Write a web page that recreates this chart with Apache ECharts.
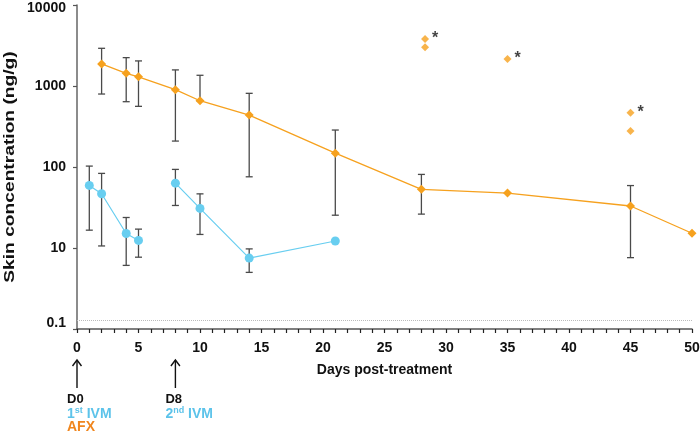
<!DOCTYPE html>
<html>
<head>
<meta charset="utf-8">
<script src="https://cdn.jsdelivr.net/npm/echarts@6/dist/echarts.min.js"></script>
<style>html,body{margin:0;padding:0;background:#fff}#c{width:700px;height:431px}</style>
</head>
<body>
<div id="c"></div>
<script>
// ---- data ----
const afxDays  = [2, 4, 5, 8, 10, 14, 21, 28, 35, 45, 50];
const afxMean  = [1870, 1435, 1300, 900, 658, 438, 148, 53, 47.6, 33, 15.2];
const afxLow   = [796, 640, 561, 209, 658, 75.7, 25.4, 26.2, null, 7.6, null];
const afxHigh  = [2920, 2240, 2040, 1580, 1356, 812, 286, 81, null, 59, null];

const ivm1Days = [1, 2, 4, 5];
const ivm1Mean = [59.3, 46.7, 15.1, 12.4];
const ivm1Low  = [16.6, 10.6, 6.1, 7.7];
const ivm1High = [102.6, 83.4, 23.8, 17.1];

const ivm2Days = [8, 10, 14, 21];
const ivm2Mean = [63.2, 30.8, 7.5, 12.2];
const ivm2Low  = [33.5, 14.7, 5.0, null];
const ivm2High = [93.4, 46.6, 9.75, null];

const outDays  = [28.3, 28.3, 35, 45, 45];
const outVals  = [3810, 3010, 2160, 468, 278];
const outStar  = ['*', '', '*', '*', ''];

const loqValue = 1.3;
const yTickLabels = {1: '0.1', 10: '10', 100: '100', 1000: '1000', 10000: '10000'};
const yTitle = 'Skin concentration (ng/g)';
const xTitle = 'Days post-treatment';

const annotations = [
  {day: 0, lines: ['D0', '1st IVM', 'AFX']},
  {day: 8, lines: ['D8', '2nd IVM']}
];

// ---- styles ----
const ORANGE = '#F6A11E';
const BLUE = '#68CEF0';
const ERR = '#4a4a4a';
const FONT = 'Liberation Sans, Arial, sans-serif';

function zip(a, b) { return a.map((v, i) => [v, b[i]]); }
function errData(d, lo, hi) {
  const out = [];
  d.forEach((x, i) => { if (lo[i] != null && hi[i] != null) out.push([x, lo[i], hi[i]]); });
  return out;
}
function errRender(params, api) {
  const x = api.value(0);
  const lo = api.coord([x, api.value(1)]);
  const hi = api.coord([x, api.value(2)]);
  const w = 3.5;
  const st = {stroke: ERR, lineWidth: 1.3};
  const children = [{type: 'line', shape: {x1: lo[0], y1: lo[1], x2: hi[0], y2: hi[1]}, style: st}];
  children.push({type: 'line', shape: {x1: hi[0] - w, y1: hi[1], x2: hi[0] + w, y2: hi[1]}, style: st});
  if (api.value(1) !== api.value(2)) {
    children.push({type: 'line', shape: {x1: lo[0] - w, y1: lo[1], x2: lo[0] + w, y2: lo[1]}, style: st});
  }
  return {type: 'group', children};
}

const LBL = {fontFamily: FONT, fontWeight: 'bold', fontSize: 14, color: '#111'};
const chart = echarts.init(document.getElementById('c'), null, {renderer: 'canvas'});
chart.setOption({
  animation: false,
  grid: {left: 77, right: 8, top: 5, bottom: 102, outerBoundsMode: 'none', containLabel: false},
  xAxis: {
    type: 'value', min: 0, max: 50, interval: 5,
    name: xTitle, nameLocation: 'middle', nameGap: 34,
    nameTextStyle: {fontFamily: FONT, fontWeight: 'bold', fontSize: 14, color: '#111'},
    axisLine: {lineStyle: {color: '#555', width: 1.5}},
    axisTick: {show: true, length: 4, lineStyle: {color: '#222', width: 1.2}},
    minorTick: {show: true, splitNumber: 5, length: 4, lineStyle: {color: '#222', width: 1.2}},
    axisLabel: {fontFamily: FONT, fontWeight: 'bold', fontSize: 14, color: '#111', margin: 12},
    splitLine: {show: false}
  },
  yAxis: {
    type: 'log', logBase: 10, min: 1, max: 10000,
    axisLine: {show: true, lineStyle: {color: '#666', width: 1.5}},
    axisTick: {show: true, length: 4, lineStyle: {color: '#555', width: 1.2}},
    axisLabel: {fontFamily: FONT, fontWeight: 'bold', fontSize: 14, color: '#111', margin: 11,
      formatter: v => {
        const r = Math.round(v);
        const t = yTickLabels[r] || '';
        if (r === 1) return '{lo|' + t + '}';
        if (r === 10000) return '{hi|' + t + '}';
        return t;
      },
      rich: {
        lo: Object.assign({padding: [0, 0, 11, 0]}, LBL),
        hi: Object.assign({padding: [6, 0, 0, 0]}, LBL)
      }
    },
    splitLine: {show: false}
  },
  series: [
    {type: 'custom', renderItem: errRender, data: errData(afxDays, afxLow, afxHigh), z: 1, encode: {x: 0, y: [1, 2]}},
    {type: 'custom', renderItem: errRender, data: errData(ivm1Days, ivm1Low, ivm1High), z: 1, encode: {x: 0, y: [1, 2]}},
    {type: 'custom', renderItem: errRender, data: errData(ivm2Days, ivm2Low, ivm2High), z: 1, encode: {x: 0, y: [1, 2]}},
    {
      type: 'line', data: zip(afxDays, afxMean), z: 3,
      symbol: 'diamond', symbolSize: 9, itemStyle: {color: ORANGE},
      lineStyle: {color: ORANGE, width: 1.3},
      markLine: {silent: true, symbol: 'none', label: {show: false},
        lineStyle: {type: 'dotted', color: '#bbb', width: 1}, data: [{yAxis: loqValue}]}
    },
    {
      type: 'line', data: zip(ivm1Days, ivm1Mean), z: 3,
      symbol: 'circle', symbolSize: 9, itemStyle: {color: BLUE},
      lineStyle: {color: BLUE, width: 1.2}
    },
    {
      type: 'line', data: zip(ivm2Days, ivm2Mean), z: 3,
      symbol: 'circle', symbolSize: 9, itemStyle: {color: BLUE},
      lineStyle: {color: BLUE, width: 1.2}
    },
    {
      type: 'scatter', z: 3,
      data: outDays.map((d, i) => ({value: [d, outVals[i]], label: {show: !!outStar[i], formatter: outStar[i]}})),
      symbol: 'diamond', symbolSize: 8, itemStyle: {color: ORANGE},
      label: {position: 'right', distance: 3, color: '#111', fontFamily: FONT, fontWeight: 'bold', fontSize: 16}
    }
  ]
});

// ---- y-axis title (stretched like the reference) and bottom annotations ----
const gridRect = chart.getModel().getComponent('grid').coordinateSystem.getRect();
const gfx = [{
  type: 'text', x: 10, y: gridRect.y + gridRect.height / 2, rotation: Math.PI / 2, scaleX: 1.28,
  style: {text: yTitle, fontFamily: FONT, fontWeight: 'bold', fontSize: 15, fill: '#111', align: 'center', verticalAlign: 'middle'}
}];
annotations.forEach(a => {
  const x = chart.convertToPixel({xAxisIndex: 0}, a.day);
  gfx.push({type: 'line', shape: {x1: x, y1: 360, x2: x, y2: 388}, style: {stroke: '#111', lineWidth: 1.4}});
  gfx.push({type: 'polyline', shape: {points: [[x - 4.5, 366], [x, 360], [x + 4.5, 366]]}, style: {stroke: '#111', lineWidth: 1.4, fill: null}});
  const sup = a.lines[1].match(/^(\d)(st|nd)( .*)$/);
  gfx.push({
    type: 'text', x: x - 10, y: 392,
    style: {
      text: '{k|' + a.lines[0] + '}\n{b|' + sup[1] + '}{s|' + sup[2] + '}{b|' + sup[3] + '}' + (a.lines[2] ? '\n{o|' + a.lines[2] + '}' : ''),
      rich: {
        k: {fontFamily: FONT, fontWeight: 'bold', fontSize: 13, fill: '#111', lineHeight: 14},
        b: {fontFamily: FONT, fontWeight: 'bold', fontSize: 14, fill: '#5CC3EA', lineHeight: 15, verticalAlign: 'bottom'},
        s: {fontFamily: FONT, fontWeight: 'bold', fontSize: 9, fill: '#5CC3EA', lineHeight: 15, verticalAlign: 'top'},
        o: {fontFamily: FONT, fontWeight: 'bold', fontSize: 14, fill: '#F0861E', lineHeight: 13}
      }
    }
  });
});
chart.setOption({graphic: gfx});
</script>
</body>
</html>
